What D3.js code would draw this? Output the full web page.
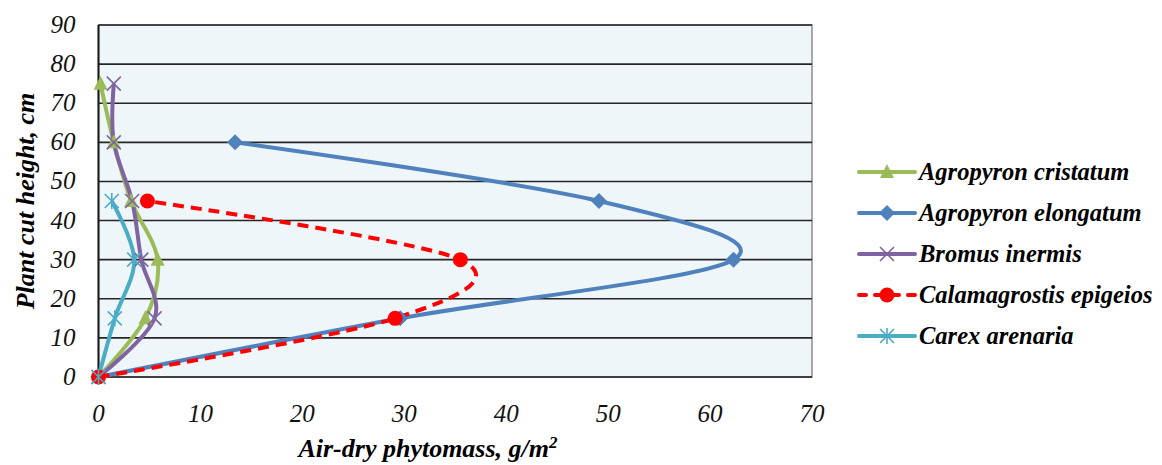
<!DOCTYPE html>
<html>
<head>
<meta charset="utf-8">
<script src="https://cdn.jsdelivr.net/npm/d3@7"></script>
<style>
  body { margin: 0; background: #ffffff; }
</style>
</head>
<body>
<script>
// heights where the plants were cut (cm)
const heights = [0, 15, 30, 45, 60, 75];

// air-dry phytomass (g/m2) at each height, null where there is no point
const cristatum = [0, 4.6, 5.8, 3.2, 1.5, 0.2];
const elongatum = [0, 29.6, 62.3, 49.1, 13.4, null];
const bromus = [0, 5.5, 4.2, 3.3, 1.5, 1.5];
const calamagrostis = [0, 29.1, 35.5, 4.8, null, null];
const carex = [0, 1.6, 3.5, 1.3, null, null];

const xTicks = [0, 10, 20, 30, 40, 50, 60, 70];
const yTicks = [0, 10, 20, 30, 40, 50, 60, 70, 80, 90];

const series = [
    { name: "Agropyron cristatum", values: cristatum, color: "#9BBB59", marker: "triangle", dash: null },
    { name: "Agropyron elongatum", values: elongatum, color: "#4F81BD", marker: "diamond", dash: null },
    { name: "Bromus inermis", values: bromus, color: "#8064A2", marker: "x", dash: null },
    { name: "Calamagrostis epigeios", values: calamagrostis, color: "#FF0000", marker: "circle", dash: "11,7" },
    { name: "Carex arenaria", values: carex, color: "#4BACC6", marker: "star", dash: null }
];

const FONT = '"Liberation Serif"';
const width = 1162, height = 465;

const svg = d3.select("body").append("svg")
    .attr("width", width)
    .attr("height", height);

const x = d3.scaleLinear().domain([0, 70]).range([98.5, 812]);
const y = d3.scaleLinear().domain([0, 90]).range([377, 25]);

// plot background
svg.append("rect")
    .attr("x", x(0)).attr("y", y(90))
    .attr("width", x(70) - x(0)).attr("height", y(0) - y(90))
    .attr("fill", "#EEF6FA")
    .attr("stroke", "#8c8c8c")
    .attr("stroke-width", 1.5);

// horizontal gridlines
svg.append("g")
    .selectAll("line")
    .data(yTicks.filter(d => d > 0))
    .enter().append("line")
    .attr("x1", x(0)).attr("x2", x(70))
    .attr("y1", d => y(d)).attr("y2", d => y(d))
    .attr("stroke", "#262626")
    .attr("stroke-width", 1.6);

// axis lines
svg.append("line")
    .attr("x1", x(0)).attr("x2", x(0))
    .attr("y1", y(0)).attr("y2", y(90))
    .attr("stroke", "#1a1a1a").attr("stroke-width", 2);
svg.append("line")
    .attr("x1", x(0)).attr("x2", x(70))
    .attr("y1", y(0)).attr("y2", y(0))
    .attr("stroke", "#404040").attr("stroke-width", 1.8);

// tick labels
svg.append("g")
    .selectAll("text")
    .data(yTicks)
    .enter().append("text")
    .attr("x", x(0) - 23)
    .attr("y", d => y(d) + 8)
    .attr("text-anchor", "end")
    .style("font-family", FONT)
    .attr("font-size", 25)
    .attr("font-style", "italic")
    .attr("fill", "#111")
    .text(d => d);

svg.append("g")
    .selectAll("text")
    .data(xTicks)
    .enter().append("text")
    .attr("x", d => x(d))
    .attr("y", 422)
    .attr("text-anchor", "middle")
    .style("font-family", FONT)
    .attr("font-size", 25)
    .attr("font-style", "italic")
    .attr("fill", "#111")
    .text(d => d);

function titleStyle(t, size) {
    t.style("font-family", FONT)
        .attr("font-size", size)
        .attr("font-weight", "bold")
        .attr("font-style", "italic")
        .attr("fill", "#000");
}

// axis titles
const xTitle = svg.append("text")
    .attr("x", 428)
    .attr("y", 457)
    .attr("text-anchor", "middle")
    .call(titleStyle, 26)
    .text("Air-dry phytomass, g/m");
xTitle.append("tspan")
    .attr("dy", -9)
    .attr("font-size", 17)
    .text("2");

svg.append("text")
    .attr("transform", `translate(34,${(y(0) + y(90)) / 2}) rotate(-90)`)
    .attr("text-anchor", "middle")
    .call(titleStyle, 26)
    .text("Plant cut height, cm");

// smoothed line like excel
const line = d3.line()
    .x(d => x(d.v))
    .y(d => y(d.h))
    .curve(d3.curveCatmullRom.alpha(0));

function points(s) {
    return heights.map((h, i) => ({ h: h, v: s.values[i] })).filter(d => d.v != null);
}

function drawMarker(g, type, color, cx, cy) {
    if (type === "triangle") {
        g.append("path")
            .attr("d", `M${cx},${cy - 8} L${cx + 7},${cy + 6} L${cx - 7},${cy + 6} Z`)
            .attr("fill", color);
    } else if (type === "diamond") {
        g.append("path")
            .attr("d", `M${cx},${cy - 8} L${cx + 8},${cy} L${cx},${cy + 8} L${cx - 8},${cy} Z`)
            .attr("fill", color);
    } else if (type === "circle") {
        g.append("circle").attr("cx", cx).attr("cy", cy).attr("r", 7.5).attr("fill", color);
    } else if (type === "x") {
        g.append("path")
            .attr("d", `M${cx - 7},${cy - 7} L${cx + 7},${cy + 7} M${cx - 7},${cy + 7} L${cx + 7},${cy - 7}`)
            .attr("stroke", color).attr("stroke-width", 1.6).attr("fill", "none");
    } else if (type === "star") {
        g.append("path")
            .attr("d", `M${cx - 7},${cy - 7} L${cx + 7},${cy + 7} M${cx - 7},${cy + 7} L${cx + 7},${cy - 7} M${cx},${cy - 8} L${cx},${cy + 8}`)
            .attr("stroke", color).attr("stroke-width", 1.6).attr("fill", "none");
    }
}

const plot = svg.append("g");
series.forEach(s => {
    plot.append("path")
        .datum(points(s))
        .attr("d", line)
        .attr("fill", "none")
        .attr("stroke", s.color)
        .attr("stroke-width", 4)
        .attr("stroke-dasharray", s.dash);
});
series.forEach(s => {
    const g = plot.append("g");
    points(s).forEach(d => drawMarker(g, s.marker, s.color, x(d.v), y(d.h)));
});

// legend
const legend = svg.append("g");
series.forEach((s, i) => {
    const ly = 172 + i * 41;
    legend.append("line")
        .attr("x1", 859).attr("x2", 915)
        .attr("y1", ly).attr("y2", ly)
        .attr("stroke", s.color)
        .attr("stroke-width", 4)
        .attr("stroke-linecap", "round")
        .attr("stroke-dasharray", s.dash ? "7,9,24,9,7" : null);
    drawMarker(legend.append("g"), s.marker, s.color, 887, ly);
    legend.append("text")
        .attr("x", 919).attr("y", ly + 8)
        .call(titleStyle, 24.5)
        .text(s.name);
});
</script>
</body>
</html>
